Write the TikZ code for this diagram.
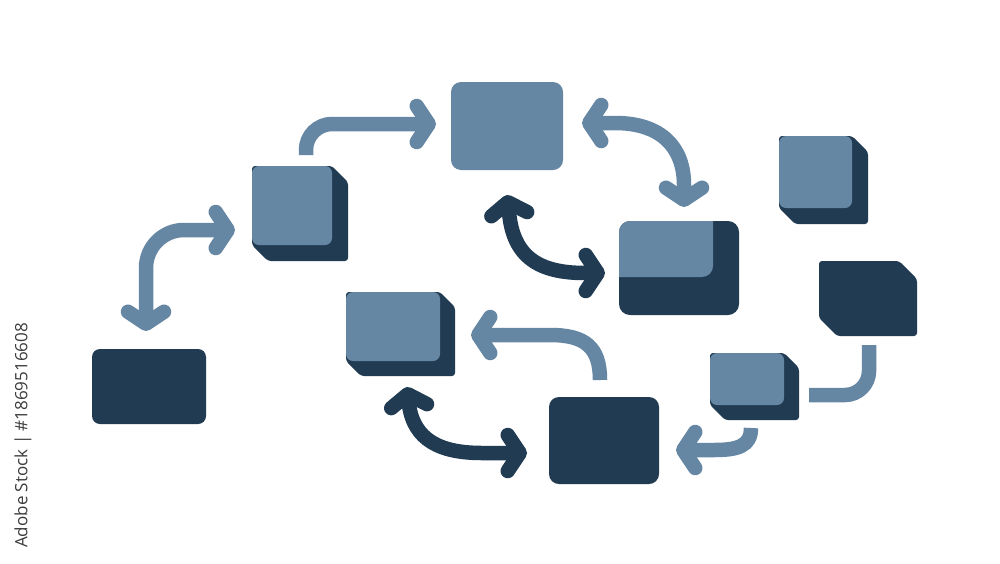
\documentclass[tikz,border=0pt]{standalone}
\usepackage{fontspec}
\newfontfamily\sidefont{Open Sans}
\usetikzlibrary{arrows.meta,calc}
\definecolor{lightblue}{HTML}{6687A4}
\definecolor{darkblue}{HTML}{213B52}
\definecolor{sidegray}{HTML}{3C3C3C}
\tikzset{
  face/.style={rectangle, inner sep=0pt, outer sep=0pt, rounded corners=7pt},
  flatbox/.style={rectangle, inner sep=0pt, outer sep=0pt, rounded corners=10pt, anchor=north west},
  conn/.style={line width=14.5pt, line cap=butt},
  barb/.tip={Straight Barb[length=12pt, width=36pt, round]},
  lightconn/.style={conn, draw=lightblue},
  darkconn/.style={conn, draw=darkblue}
}
% name, x0, y0, w, h, d, front colour, side colour
\newcommand\mkcube[8]{%
  \fill[#8, rounded corners=3pt] (#2,#3) -- ({#2+#4},#3) -- ({#2+#4+#6},{#3+#6})
     -- ({#2+#4+#6},{#3+#5+#6}) -- ({#2+#6},{#3+#5+#6}) -- (#2,{#3+#5}) -- cycle;
  \node[face, fill=#7, minimum width=#4pt, minimum height=#5pt, anchor=north west] (#1) at (#2,#3) {};
}
\begin{document}
\begin{tikzpicture}[x=1pt, y=-1pt]
\useasboundingbox (0,0) rectangle (1000,563);
\fill[white] (0,0) rectangle (1000,563);

% flat boxes
\node[flatbox, fill=darkblue, minimum width=114pt, minimum height=75pt, rounded corners=8pt] (A) at (92,349) {};
\node[flatbox, fill=lightblue, minimum width=112pt, minimum height=88pt] (C) at (451,82) {};
\node[flatbox, fill=darkblue, minimum width=110pt, minimum height=87pt] (H) at (549,397) {};
\node[flatbox, fill=darkblue, minimum width=120pt, minimum height=94pt, rounded corners=11pt] (D) at (619,221) {};
\begin{scope}
  \clip[rounded corners=11pt] (D.north west) rectangle (D.south east);
  \fill[lightblue, rounded corners=11pt] ($(D.north west)+(-20,-20)$) rectangle (713,277);
\end{scope}

% 3D boxes
\mkcube{B}{252}{166}{80}{79}{16}{lightblue}{darkblue}
\mkcube{E}{779}{136}{73}{72}{16}{lightblue}{darkblue}
\mkcube{G}{710}{353}{74}{52}{15}{lightblue}{darkblue}
\mkcube{I}{346}{292}{94}{69}{15}{lightblue}{darkblue}
\mkcube{F}{819}{261}{80}{57}{18}{darkblue}{darkblue}

% connector end points
\coordinate (a1s) at (146,331);
\coordinate (a1e) at (235,230);
\coordinate (a2s) at (306,155);
\coordinate (a2e) at (436,124);
\coordinate (a3s) at (582,123);
\coordinate (a3e) at (684,207);
\coordinate (a4s) at (507,195);
\coordinate (a4e) at (605,273);
\coordinate (a5s) at (600,380);
\coordinate (a5e) at (471,335);
\coordinate (a6s) at (407,387);
\coordinate (a6e) at (527,453);
\coordinate (a7s) at (869,345);
\coordinate (a7e) at (809,395);
\coordinate (a8s) at (751,428);
\coordinate (a8e) at (676,450);

% connectors
\draw[lightconn, {barb}-{barb}, rounded corners=38pt] (a1s) -- (a1s |- a1e) -- (a1e);
\draw[lightconn, -{barb}, rounded corners=26pt] (a2s) -- (a2s |- a2e) -- (a2e);
\draw[lightconn, {barb}-{barb}] (a3s) -- (615,123) .. controls (662,123) and (684,148) .. (684,185) -- (a3e);
\draw[darkconn, {barb}-{barb}] (a4s) -- (509,212) .. controls (513,258) and (540,273) .. (585,273) -- (a4e);
\draw[lightconn, -{barb}] (a5s) .. controls (600,347) and (585,335) .. (550,335) -- (a5e);
\draw[darkconn, {barb}-{barb}] (a6s) -- (409,405) .. controls (414,440) and (440,453) .. (482,453) -- (a6e);
\draw[lightconn, rounded corners=24pt] (a7s) -- (a7s |- a7e) -- (a7e);
\draw[lightconn, -{barb}] (a8s) .. controls (751,446) and (738,450) .. (714,450) -- (a8e);

% side text
\node[anchor=west, rotate=90, inner sep=0pt, text=sidegray, font=\sidefont\fontsize{17pt}{17pt}\selectfont] (side) at (23,548) {Adobe Stock | \#1869516608};
\end{tikzpicture}
\end{document}
